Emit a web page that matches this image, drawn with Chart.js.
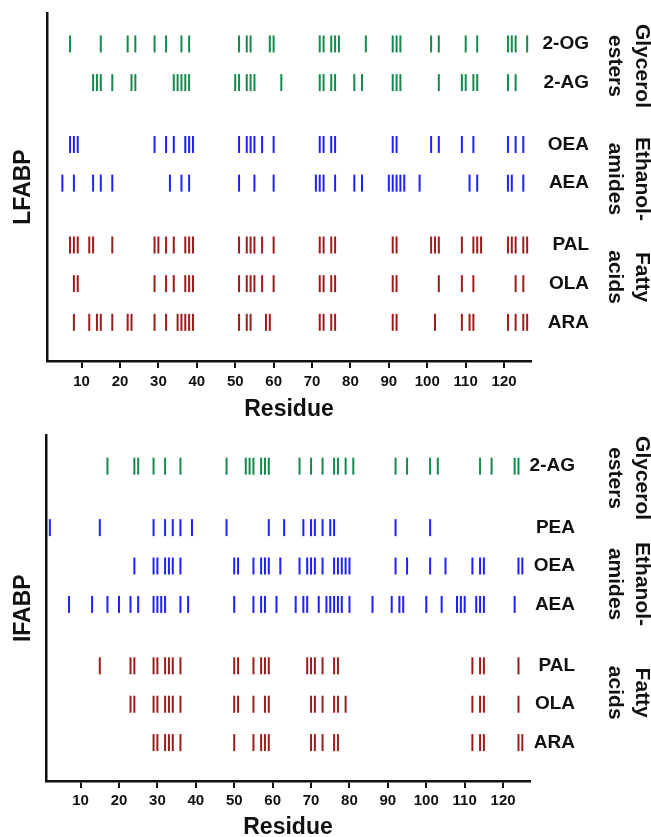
<!DOCTYPE html>
<html>
<head>
<meta charset="utf-8">
<script src="https://cdn.jsdelivr.net/npm/chart.js@4/dist/chart.umd.min.js"></script>
<style>
html,body{margin:0;padding:0;background:#fff;}
#w1{position:absolute;left:0;top:0;width:651px;height:425px;}
#w2{position:absolute;left:0;top:425px;width:651px;height:412px;}
canvas{display:block;}
</style>
</head>
<body>
<div id="w1"><canvas id="c1" width="651" height="425"></canvas></div>
<div id="w2"><canvas id="c2" width="651" height="412"></canvas></div>
<script>
// ---------- DATA ----------
const xTickValues = [10,20,30,40,50,60,70,80,90,100,110,120];
const groupNames = [['Glycerol','esters'],['Ethanol-','amides'],['Fatty','acids']];

// LFABP (top panel)
const lfabpRows = ['2-OG','2-AG','OEA','AEA','PAL','OLA','ARA'];
const lfabp_2OG = [7,15,22,24,29,32,36,38,51,53,54,59,60,72,73,75,76,77,84,91,92,93,101,103,110,113,121,122,123,126];
const lfabp_2AG = [13,14,15,18,23,24,34,35,36,37,38,50,51,53,54,55,62,72,73,75,76,81,83,91,92,93,103,109,110,112,113,121,123];
const lfabp_OEA = [7,8,9,29,32,34,37,38,39,51,53,54,55,57,60,72,73,75,76,91,92,101,103,109,112,121,123,125];
const lfabp_AEA = [5,8,13,15,18,33,36,38,51,55,60,71,72,73,76,81,83,90,91,92,93,94,98,111,113,121,122,125];
const lfabp_PAL = [7,8,9,12,13,18,29,30,32,34,37,38,39,51,53,54,55,57,60,72,73,75,76,91,92,101,102,103,109,112,113,114,121,122,123,125,126];
const lfabp_OLA = [8,9,29,32,34,37,38,39,51,53,54,55,57,60,72,73,75,76,91,92,103,109,112,123,125];
const lfabp_ARA = [8,12,14,15,18,22,23,29,32,35,36,37,38,39,51,53,54,58,59,72,73,75,76,91,92,102,109,111,112,121,123,125,126];

// IFABP (bottom panel)
const ifabpRows = ['2-AG','PEA','OEA','AEA','PAL','OLA','ARA'];
const ifabp_2AG = [17,24,25,29,32,36,48,53,54,55,57,58,59,67,70,73,76,77,79,81,92,95,101,103,114,117,123,124];
const ifabp_PEA = [2,15,29,32,34,36,39,48,59,63,68,70,71,73,75,76,92,101];
const ifabp_OEA = [24,29,30,32,33,34,36,50,51,55,57,58,59,62,67,69,70,71,73,76,77,78,79,80,92,95,101,105,112,114,115,124,125];
const ifabp_AEA = [7,13,17,20,23,25,29,30,31,32,36,38,50,55,57,58,61,66,68,69,72,74,75,76,77,78,80,86,91,93,94,100,104,108,109,110,113,114,115,123];
const ifabp_PAL = [15,23,24,29,30,32,33,34,36,50,51,55,57,58,59,69,70,71,73,76,77,112,114,115,124];
const ifabp_OLA = [23,24,29,30,32,33,34,36,50,51,55,58,59,70,71,73,76,77,79,112,114,115,124];
const ifabp_ARA = [29,30,32,33,34,36,50,55,57,58,59,70,71,73,76,77,112,114,115,124,125];

// ---------- STYLE / LAYOUT ----------
const GREEN = '#13894b', BLUE = '#1f1fff', RED = '#9c1b1b', INK = '#111';
const FONT = '"Liberation Sans", Arial, Helvetica, sans-serif';
Chart.defaults.font.family = FONT;
Chart.defaults.color = INK;

const sideText = {
  id: 'sideText',
  afterDraw(chart, args, o) {
    const ctx = chart.ctx, ys = chart.scales.y, ca = chart.chartArea;
    ctx.save();
    ctx.fillStyle = INK;
    ctx.font = 'bold 19px ' + FONT;
    ctx.textAlign = 'right';
    ctx.textBaseline = 'middle';
    o.rows.forEach((name, i) => ctx.fillText(name, ca.right + o.rowLabelDx, ys.getPixelForValue(o.rowY[i])));
    ctx.font = 'bold 21px ' + FONT;
    ctx.textAlign = 'center';
    o.groups.forEach((g, i) => {
      ctx.save();
      ctx.translate(o.groupX, ys.getPixelForValue(o.groupY[i]));
      ctx.rotate(Math.PI / 2);
      ctx.fillText(g[0], 0, -13.5);
      ctx.fillText(g[1], 0, 13.5);
      ctx.restore();
    });
    ctx.restore();
  }
};

function makePanel(id, cfg) {
  const datasets = cfg.series.map((vals, i) => ({
    data: vals.map(v => ({x: v, y: cfg.rowY[i]})),
    pointStyle: 'line',
    pointRotation: 90,
    rotation: 90,
    pointRadius: 8.5,
    radius: 8.5,
    pointBorderWidth: 2,
    borderWidth: 2,
    pointBorderColor: cfg.colors[i],
    borderColor: cfg.colors[i],
    backgroundColor: cfg.colors[i],
    showLine: false,
    clip: false
  }));
  return new Chart(document.getElementById(id), {
    type: 'scatter',
    data: {datasets},
    options: {
      responsive: false,
      animation: false,
      devicePixelRatio: 1,
      events: [],
      layout: {padding: {top: cfg.padTop, right: cfg.padRight, left: 0, bottom: 0}},
      plugins: {
        legend: {display: false},
        tooltip: {enabled: false},
        sideText: {rows: cfg.rows, rowY: cfg.rowY, rowLabelDx: cfg.rowLabelDx,
                   groups: groupNames, groupY: cfg.groupY, groupX: 628}
      },
      scales: {
        x: {
          type: 'linear', position: 'bottom', min: 1, max: 127,
          afterBuildTicks: (axis) => { axis.ticks = xTickValues.map(v => ({value: v})); },
          afterFit: (axis) => { axis.height = cfg.xAxisH; },
          ticks: {font: {size: 15, weight: 'bold'}, padding: cfg.tickPad, color: INK, maxRotation: 0, autoSkip: false},
          grid: {display: true, drawOnChartArea: false, drawTicks: true, tickLength: 7, lineWidth: 2, color: INK},
          border: {display: true, width: 2.5, color: INK},
          title: {display: true, text: 'Residue', color: INK,
                  font: {size: 23, weight: 'bold', lineHeight: 0.8}, padding: {top: 0, bottom: cfg.titlePadB}}
        },
        y: {
          type: 'linear', position: 'left', min: 0, max: 9,
          afterFit: (axis) => { axis.width = cfg.yAxisW; },
          ticks: {display: false},
          grid: {display: false, drawTicks: false},
          border: {display: true, width: 2.5, color: INK},
          title: {display: true, text: cfg.title, color: INK,
                  font: {size: 23, weight: 'bold', lineHeight: 1}, padding: {top: 12.5, bottom: 0}}
        }
      }
    },
    plugins: [sideText]
  });
}

makePanel('c1', {
  title: 'LFABP',
  rows: lfabpRows,
  series: [lfabp_2OG, lfabp_2AG, lfabp_OEA, lfabp_AEA, lfabp_PAL, lfabp_OLA, lfabp_ARA],
  colors: [GREEN, GREEN, BLUE, BLUE, RED, RED, RED],
  rowY: [8.2, 7.2, 5.6, 4.6, 3, 2, 1],
  groupY: [7.63, 4.71, 2.17],
  rowLabelDx: 58,
  padTop: 13, padRight: 120, yAxisW: 47, xAxisH: 64, tickPad: 5, titlePadB: 5.8
});

makePanel('c2', {
  title: 'IFABP',
  rows: ifabpRows,
  series: [ifabp_2AG, ifabp_PEA, ifabp_OEA, ifabp_AEA, ifabp_PAL, ifabp_OLA, ifabp_ARA],
  colors: [GREEN, BLUE, BLUE, BLUE, RED, RED, RED],
  rowY: [8.2, 6.6, 5.6, 4.6, 3, 2, 1],
  groupY: [7.89, 5.13, 2.30],
  rowLabelDx: 45,
  padTop: 7, padRight: 121, yAxisW: 46, xAxisH: 56, tickPad: 4, titlePadB: 0
});
</script>
</body>
</html>
